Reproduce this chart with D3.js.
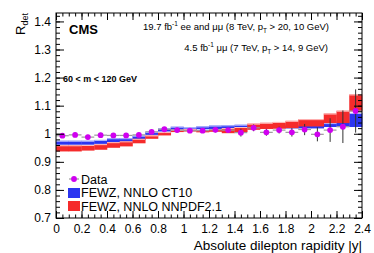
<!DOCTYPE html>
<html>
<head>
<meta charset="utf-8">
<script src="https://cdn.jsdelivr.net/npm/d3@7/dist/d3.min.js"></script>
<style>
body { margin: 0; background: #fff; }
text { font-family: "Liberation Sans", Arial, sans-serif; }
.axis path { display: none; }
.axis line { stroke: #000; }
.axis text { font-size: 12px; font-family: "Liberation Sans", Arial, sans-serif; fill: #000; }
</style>
</head>
<body>
<div id="container"></div>
<script>
// bins of |y|
var binEdges = [0, 0.1, 0.2, 0.3, 0.4, 0.5, 0.6, 0.7, 0.8, 0.9, 1.0, 1.1, 1.2,
                1.3, 1.4, 1.5, 1.6, 1.7, 1.8, 1.9, 2.0, 2.1, 2.2, 2.3, 2.4];

// data
var dataVal = [0.993, 0.996, 0.988, 0.995, 0.994, 0.994, 0.996, 1.007, 1.016, 1.013, 1.011, 1.011,
               1.014, 1.013, 1.004, 1.021, 1.005, 1.013, 1.005, 1.015, 0.998, 1.013, 1.025, 1.081];
var dataErr = [0.008, 0.008, 0.008, 0.008, 0.008, 0.008, 0.008, 0.008, 0.008, 0.008, 0.008, 0.008,
               0.009, 0.009, 0.014, 0.012, 0.012, 0.012, 0.015, 0.02, 0.025, 0.042, 0.058, 0.077];

// FEWZ NNLO CT10
var ct10Val = [0.968, 0.968, 0.968, 0.971, 0.977, 0.977, 0.986, 1.001, 1.014, 1.020, 1.018, 1.021,
               1.023, 1.025, 1.027, 1.027, 1.026, 1.026, 1.025, 1.025, 1.025, 1.031, 1.035, 1.049];
var ct10Err = [0.007, 0.007, 0.007, 0.007, 0.007, 0.007, 0.007, 0.005, 0.006, 0.005, 0.004, 0.005,
               0.006, 0.005, 0.005, 0.006, 0.006, 0.006, 0.006, 0.006, 0.006, 0.007, 0.009, 0.025];

// FEWZ NNLO NNPDF2.1
var nnpdfVal = [0.948, 0.948, 0.950, 0.953, 0.960, 0.964, 0.974, 0.988, 1.000, 1.010, 1.012, 1.009,
                1.012, 1.011, 1.015, 1.025, 1.028, 1.030, 1.033, 1.039, 1.039, 1.055, 1.060, 1.110];
var nnpdfErr = [0.011, 0.011, 0.010, 0.010, 0.010, 0.009, 0.008, 0.006, 0.006, 0.004, 0.004, 0.004,
                0.005, 0.009, 0.009, 0.011, 0.011, 0.012, 0.013, 0.013, 0.013, 0.017, 0.022, 0.030];

var xTicks = [0, 0.2, 0.4, 0.6, 0.8, 1, 1.2, 1.4, 1.6, 1.8, 2, 2.2, 2.4];
var yTicks = [0.7, 0.8, 0.9, 1, 1.1, 1.2, 1.3, 1.4];

var w = 374;
var h = 253;
var svg = d3.select("div#container")
            .append("svg")
            .attr("width", w)
            .attr("height", h);

var x = d3.scaleLinear().domain([0, 2.4]).range([56, 362]);
var y = d3.scaleLinear().domain([0.7, 1.43]).range([218, 13]);

var xMinor = d3.range(0, 2.4001, 0.05);
var yMinor = d3.range(0.7, 1.4301, 0.02);

function bins(vals, errs) {
    return vals.map(function(v, i) {
        return { lo: binEdges[i], hi: binEdges[i + 1], v: v, e: errs[i] };
    });
}

function drawBand(rows, fill, edge) {
    var g = svg.append("g");
    g.selectAll("rect")
        .data(rows)
        .enter()
        .append("rect")
        .attr("x", function(d) { return x(d.lo); })
        .attr("width", function(d) { return x(d.hi) - x(d.lo) + 0.3; })
        .attr("y", function(d) { return y(d.v + d.e); })
        .attr("height", function(d) { return y(d.v - d.e) - y(d.v + d.e); })
        .attr("fill", fill);
    g.selectAll("line")
        .data(rows)
        .enter()
        .append("line")
        .attr("x1", function(d) { return x(d.lo); })
        .attr("x2", function(d) { return x(d.hi); })
        .attr("y1", function(d) { return y(d.v + d.e) + 0.5; })
        .attr("y2", function(d) { return y(d.v + d.e) + 0.5; })
        .attr("stroke", edge)
        .attr("stroke-width", 1);
}

drawBand(bins(ct10Val, ct10Err), "#2b35f0", "#b8bcff");
drawBand(bins(nnpdfVal, nnpdfErr), "#f52b2b", "#ffc0c0");

// data
var dat = bins(dataVal, dataErr);
var gd = svg.append("g");
gd.selectAll("line.h")
    .data(dat)
    .enter()
    .append("line")
    .attr("class", "h")
    .attr("x1", function(d) { return x(d.lo); })
    .attr("x2", function(d) { return x(d.hi); })
    .attr("y1", function(d) { return y(d.v); })
    .attr("y2", function(d) { return y(d.v); })
    .attr("stroke", "#999")
    .attr("stroke-width", 1.2);
gd.selectAll("line.v")
    .data(dat)
    .enter()
    .append("line")
    .attr("class", "v")
    .attr("x1", function(d) { return x((d.lo + d.hi) / 2); })
    .attr("x2", function(d) { return x((d.lo + d.hi) / 2); })
    .attr("y1", function(d) { return y(d.v - d.e); })
    .attr("y2", function(d) { return y(d.v + d.e); })
    .attr("stroke", "#333")
    .attr("stroke-width", 1);
gd.selectAll("circle")
    .data(dat)
    .enter()
    .append("circle")
    .attr("cx", function(d) { return x((d.lo + d.hi) / 2); })
    .attr("cy", function(d) { return y(d.v); })
    .attr("r", 2.9)
    .attr("fill", "#d000f0");

// axes, ticks inside on all four sides
function fmt(d) { return d3.format("")(+d.toFixed(1)); }

svg.append("g").attr("class", "axis")
    .attr("transform", "translate(0,218)")
    .call(d3.axisBottom(x).tickValues(xTicks).tickSize(-7).tickSizeOuter(0).tickPadding(6).tickFormat(fmt));
svg.append("g").attr("class", "axis")
    .attr("transform", "translate(0,218)")
    .call(d3.axisBottom(x).tickValues(xMinor).tickSize(-3.5).tickSizeOuter(0).tickFormat(""));
svg.append("g").attr("class", "axis")
    .attr("transform", "translate(0,13)")
    .call(d3.axisTop(x).tickValues(xTicks).tickSize(-7).tickSizeOuter(0).tickFormat(""));
svg.append("g").attr("class", "axis")
    .attr("transform", "translate(0,13)")
    .call(d3.axisTop(x).tickValues(xMinor).tickSize(-3.5).tickSizeOuter(0).tickFormat(""));

svg.append("g").attr("class", "axis")
    .attr("transform", "translate(56,0)")
    .call(d3.axisLeft(y).tickValues(yTicks).tickSize(-8).tickSizeOuter(0).tickPadding(5).tickFormat(fmt));
svg.append("g").attr("class", "axis")
    .attr("transform", "translate(56,0)")
    .call(d3.axisLeft(y).tickValues(yMinor).tickSize(-4).tickSizeOuter(0).tickFormat(""));
svg.append("g").attr("class", "axis")
    .attr("transform", "translate(362,0)")
    .call(d3.axisRight(y).tickValues(yTicks).tickSize(-8).tickSizeOuter(0).tickFormat(""));
svg.append("g").attr("class", "axis")
    .attr("transform", "translate(362,0)")
    .call(d3.axisRight(y).tickValues(yMinor).tickSize(-4).tickSizeOuter(0).tickFormat(""));

svg.append("rect")
    .attr("x", 56).attr("y", 13)
    .attr("width", 306).attr("height", 205)
    .attr("fill", "none")
    .attr("stroke", "#000")
    .attr("stroke-width", 1);

// titles
svg.append("text")
    .attr("x", 362).attr("y", 249.5)
    .attr("text-anchor", "end")
    .attr("font-size", 13.5)
    .text("Absolute dilepton rapidity |y|");

var yt = svg.append("text")
    .attr("transform", "translate(25,13) rotate(-90)")
    .attr("text-anchor", "end")
    .attr("font-size", 13);
yt.append("tspan").text("R");
yt.append("tspan").attr("font-size", 9).attr("dy", 3).text("det");

svg.append("text")
    .attr("x", 69).attr("y", 34)
    .attr("font-size", 13)
    .attr("font-weight", "bold")
    .text("CMS");

var l1 = svg.append("text")
    .attr("x", 329).attr("y", 30)
    .attr("text-anchor", "end")
    .attr("font-size", 9.5);
l1.append("tspan").text("19.7 fb");
l1.append("tspan").attr("font-size", 6.5).attr("dy", -4).text("-1");
l1.append("tspan").attr("dy", 4).text(" ee and \u03bc\u03bc (8 TeV, p");
l1.append("tspan").attr("font-size", 6.5).attr("dy", 2.5).text("T");
l1.append("tspan").attr("dy", -2.5).text(" > 20, 10 GeV)");

var l2 = svg.append("text")
    .attr("x", 328).attr("y", 51)
    .attr("text-anchor", "end")
    .attr("font-size", 9.5);
l2.append("tspan").text("4.5 fb");
l2.append("tspan").attr("font-size", 6.5).attr("dy", -4).text("-1");
l2.append("tspan").attr("dy", 4).text(" \u03bc\u03bc (7 TeV, p");
l2.append("tspan").attr("font-size", 6.5).attr("dy", 2.5).text("T");
l2.append("tspan").attr("dy", -2.5).text(" > 14, 9 GeV)");

svg.append("text")
    .attr("x", 63).attr("y", 82)
    .attr("font-family", "'Liberation Serif', 'Times New Roman', serif")
    .attr("font-weight", "bold")
    .attr("font-size", 9)
    .text("60 < m < 120 GeV");

// legend
var lg = svg.append("g");
lg.append("line")
    .attr("x1", 69).attr("x2", 79).attr("y1", 179).attr("y2", 179)
    .attr("stroke", "#999").attr("stroke-width", 1.2);
lg.append("circle")
    .attr("cx", 74).attr("cy", 179).attr("r", 2.9).attr("fill", "#d000f0");
lg.append("text").attr("x", 81).attr("y", 183.8).attr("font-size", 12.5).text("Data");
lg.append("rect")
    .attr("x", 68).attr("y", 188).attr("width", 12).attr("height", 10)
    .attr("fill", "#2b35f0");
lg.append("text").attr("x", 81).attr("y", 196.8).attr("font-size", 12.5).text("FEWZ, NNLO CT10");
lg.append("rect")
    .attr("x", 68).attr("y", 201).attr("width", 12).attr("height", 10)
    .attr("fill", "#f52b2b");
lg.append("text").attr("x", 81).attr("y", 211.2).attr("font-size", 12.5).text("FEWZ, NNLO NNPDF2.1");
</script>
</body>
</html>
